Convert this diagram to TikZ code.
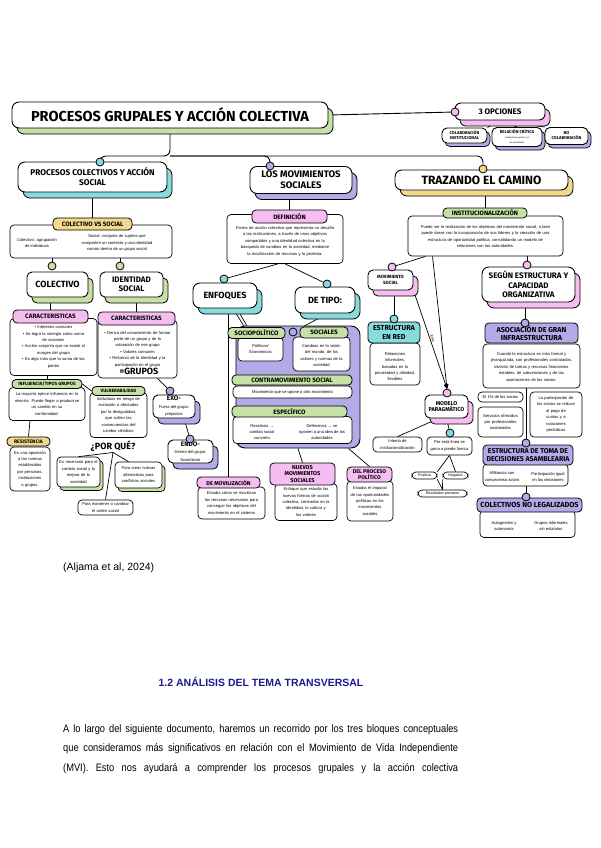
\documentclass[tikz,border=0pt]{standalone}
\usepackage{fontspec}
\setmainfont{Liberation Sans}
\setsansfont{Fira Sans}
\newfontfamily\narrowf{Liberation Sans}[FakeStretch=0.86]
\usepackage{xcolor}
\usetikzlibrary{shadows,arrows,positioning}

\definecolor{cyanS}{HTML}{86DCDC}
\definecolor{greenS}{HTML}{C5E1A5}
\definecolor{lavS}{HTML}{B3ABE8}
\definecolor{pinkS}{HTML}{F6BDF0}
\definecolor{yelS}{HTML}{F2D98E}
\definecolor{headblue}{HTML}{1C1A8A}

\newcommand{\hf}[2]{\sffamily\bfseries\fontsize{#1}{#2}\selectfont}
\newcommand{\smtxt}{\fontsize{4.1}{6.4}\selectfont}
\newcommand{\plain}{\rmfamily\mdseries\smtxt}
\newcommand{\optsub}{\rmfamily\mdseries\fontsize{2.2}{2.7}\selectfont}

\pgfdeclarelayer{bg}
\pgfsetlayers{bg,main}

\tikzset{
  card/.style={draw, line width=0.9pt, rounded corners=5pt, fill=white, align=center, inner sep=1pt},
  tag/.style={draw, line width=0.8pt, rounded corners=4pt, align=center, inner sep=0.5pt, font={\hf{6.3}{7.4}}},
  note/.style={draw, line width=0.7pt, rounded corners=4pt, fill=white, align=center, inner sep=1.5pt, font=\smtxt},
  txt/.style={align=center, inner sep=0pt, font=\smtxt},
  shd/.style={drop shadow={shadow xshift=5pt, shadow yshift=-6pt, fill=#1, draw=black, line width=0.8pt, opacity=1}},
  shds/.style={drop shadow={shadow xshift=3pt, shadow yshift=-3.5pt, fill=#1, draw=black, line width=0.7pt, opacity=1}},
  dot/.style={circle, draw, line width=0.8pt, fill=#1, minimum size=8pt, inner sep=0pt},
  link/.style={draw, line width=0.7pt},
  wh/.style 2 args={minimum width=#1, minimum height=#2},
  bodyline/.style={anchor=west, inner sep=0pt, font={\narrowf\fontsize{10.8}{12}\selectfont}},
}

\begin{document}
\begin{tikzpicture}[x=1pt, y=-1pt, >=stealth']
\useasboundingbox (0,0) rectangle (600,848);

% --- titulo y tres opciones
\node[card, shd=greenS, wh={316}{26}, rounded corners=7pt, font={\hf{14.5}{16}}] (title) at (170,115) {PROCESOS GRUPALES Y ACCIÓN COLECTIVA};
\node[card, shd=pinkS, wh={90}{17}, rounded corners=6pt, font={\hf{8}{9}}] (opts) at (500,111.5) {3 OPCIONES};
\node[dot=pinkS] (dotO) at (455,112) {};
\node[card, shds=lavS, wh={45}{15}, font={\hf{4.2}{5}}] (opt1) at (464.5,135.5) {COLABORACIÓN\\INSTITUCIONAL};
\node[card, shds=lavS, wh={50}{19}, font={\hf{4.2}{5}}] (opt2) at (517,137) {RELACIÓN CRÍTICA\\\optsub colaboración puntual con\\\optsub las autoridades};
\node[card, shds=lavS, wh={43}{17}, font={\hf{4.2}{5}}] (opt3) at (566.5,136) {NO\\COLABORACIÓN};

% --- tres ramas
\node[card, shd=cyanS, wh={149}{30}, rounded corners=7pt, font={\hf{8.3}{10}}] (pcas) at (92.5,177) {PROCESOS COLECTIVOS Y ACCIÓN\\SOCIAL};
\node[dot=cyanS] (dotP) at (100,162) {};
\node[card, shd=lavS, wh={102}{27}, rounded corners=7pt, font={\hf{9.5}{11}}] (lms) at (301,180) {LOS MOVIMIENTOS\\SOCIALES};
\node[dot=lavS] (dotM) at (270,166) {};
\node[card, shd=yelS, wh={173}{20}, rounded corners=7pt, font={\hf{12}{13}}] (tec) at (481.5,180) {TRAZANDO EL CAMINO};
\node[dot=yelS] (dotT) at (483,169) {};

% --- procesos colectivos
\node[note, wh={162}{33}] (cvs) at (91,241.5) {};
\node[txt] (cvsA) at (37,243) {Colectivo: agrupación\\de individuos};
\node[txt] (cvsB) at (117,243) {Social: conjunto de sujetos que\\comparten un contexto y una identidad\\común dentro de un grupo social};
\node[tag, fill=yelS, wh={79}{12}] (cvsT) at (92.5,224) {COLECTIVO VS SOCIAL};
\node[card, shd=greenS, wh={61}{25}, font={\hf{9}{10}}] (colec) at (57.5,284.5) {COLECTIVO};
\node[dot=greenS] (dotCo) at (52,266) {};
\node[card, shd=greenS, wh={63}{25}, font={\hf{8}{9.5}}] (ident) at (131.5,284.5) {IDENTIDAD\\SOCIAL};
\node[dot=greenS] (dotId) at (120,266) {};

\node[note, wh={87}{57}, text width=82pt] (charL) at (53.5,347) {• Intereses comunes\\• Se logra la sinergia como suma\\de acciones\\• Acción conjunta que no existe al\\margen del grupo\\• Es algo más que la suma de las\\partes};
\node[tag, fill=pinkS, wh={75}{13}] (charLt) at (50.5,316.5) {CARACTERISTICAS};
\node[note, wh={79}{58}, text width=74pt] (charR) at (137.5,349) {• Deriva del conocimiento de formar\\parte de un grupo y de la\\valoración de ese grupo\\• Valores comunes\\• Refuerzo de la identidad y la\\participación en el grupo\\[6pt]};
\node[tag, fill=pinkS, wh={77}{13}] (charRt) at (136.5,318.5) {CARACTERISTICAS};
\node[inner sep=0pt, font={\hf{9}{10}}] (grp) at (139,371) {=GRUPOS};

\node[note, wh={76}{33}, text width=72pt] (box1) at (47,404) {La mayoría ejerce influencia en la\\minoría. Puede llegar a producirse\\un cambio en su\\conformidad.};
\node[tag, fill=greenS, wh={70}{9}, font={\hf{4.6}{5}}] (tag1) at (47,384) {INFLUENCIA/TIPOS GRUPOS};
\node[note, wh={57}{45}, text width=53pt] (box2) at (118.5,415) {Individuos en riesgo de\\exclusión o afectados\\por la desigualdad,\\que sufren las\\consecuencias del\\cambio climático};
\node[tag, fill=greenS, wh={53}{9}, font={\hf{4.6}{5}}] (tag2) at (118.5,391) {VULNERABILIDAD};
\node[note, wh={40}{44}, text width=37pt] (resB) at (30,469) {Es una oposición\\a las normas\\establecidas\\por personas,\\instituciones\\o grupos.};
\node[tag, fill=yelS, wh={43}{9}, font={\hf{5}{6}}] (resT) at (28.5,441.5) {RESISTENCIA};

\node[inner sep=1pt, font={\hf{9}{10}}] (pq) at (113,446) {¿POR QUÉ?};
\node[note, shds=greenS, wh={43}{30}, text width=40pt] (pq1) at (78.5,472) {Es necesario para el\\cambio social y la\\mejora de la\\sociedad};
\node[note, shds=greenS, wh={47}{26}, text width=44pt] (pq2) at (138.5,475) {Para crear nuevas\\alternativas para\\conflictos sociales};
\node[note, wh={55}{15}, text width=52pt] (pq3) at (105.5,507.5) {Para mantener o cambiar\\el orden social};

\node[card, shd=lavS, wh={42}{23}, font={\hf{6.5}{7.5}}] (exo) at (174,406.5) {EXO-\\\plain Fuera del grupo:\\\plain prejuicios};
\node[dot=lavS] (dotEx) at (170,391) {};
\node[card, shd=lavS, wh={45}{23}, font={\hf{6.5}{7.5}}] (endo) at (190.5,451.5) {ENDO-\\\plain Dentro del grupo:\\\plain favoritismo};
\node[dot=lavS] (dotEn) at (190,439) {};

% --- movimientos sociales
\node[note, wh={116}{49}, text width=112pt] (def) at (285,239) {\\[1pt]Forma de acción colectiva que representa un desafío\\a las instituciones, a través de unos objetivos\\compartidos y una identidad colectiva en la\\búsqueda de cambios en la sociedad, mediante\\la movilización de recursos y la protesta.};
\node[tag, fill=pinkS, wh={75}{13}] (defT) at (289.5,216.5) {DEFINICIÓN};
\node[card, shd=cyanS, wh={64}{25}, rounded corners=7pt, font={\hf{9}{10}}] (enf) at (225,295.5) {ENFOQUES};
\node[dot=cyanS] (dotEf) at (224,279) {};
\node[card, shd=cyanS, wh={60}{26}, rounded corners=7pt, font={\hf{9}{10}}] (dtp) at (325,300) {DE TIPO:};
\node[dot=cyanS] (dotDt) at (327,284) {};

\node[draw, line width=0.9pt, rounded corners=9pt, fill=lavS, wh={124}{122}] (block) at (298,387) {};
\node[note, wh={45}{24}] (socB) at (260.5,349) {Políticos/\\Económicos};
\node[tag, fill=greenS, wh={57}{11}] (socT) at (256.5,333) {SOCIOPOLÍTICO};
\node[dot=lavS] (dotSo) at (293,332) {};
\node[note, wh={57}{34}, text width=54pt] (salB) at (321.5,354) {\\[0pt]Cambios en la visión\\del mundo, de los\\valores y normas de la\\sociedad};
\node[tag, fill=greenS, wh={48}{11}] (salT) at (324,332.5) {SOCIALES};
\node[note, wh={119}{12}] (conB) at (292.5,392) {Movimiento que se opone a otro movimiento};
\node[tag, fill=greenS, wh={120}{10}] (conT) at (292,380) {CONTRAMOVIMIENTO SOCIAL};
\node[note, wh={119}{27}] (espB) at (292.5,430) {};
\node[txt] (espA) at (262,432) {Reactivos →\\cambio social\\concreto};
\node[txt] (espC) at (322,432) {Defensivos → se\\oponen a una idea de las\\autoridades};
\node[tag, fill=greenS, wh={115}{11}] (espT) at (289.5,411.5) {ESPECÍFICO};

\node[note, wh={67}{32}, text width=64pt] (movB) at (231.5,503) {Estudia cómo se movilizan\\los recursos necesarios para\\conseguir los objetivos del\\movimiento en el sistema};
\node[tag, fill=pinkS, wh={63}{11}, font={\hf{5.6}{6.5}}] (movT) at (228.5,482.5) {DE MOVILIZACIÓN};
\node[note, wh={62}{37}, text width=59pt] (nuevB) at (306,502) {Enfoque que estudia las\\nuevas formas de acción\\colectiva, centradas en la\\identidad, la cultura y\\los valores};
\node[tag, fill=pinkS, wh={65}{22}, font={\hf{5.6}{6.5}}] (nuevT) at (302.5,474) {NUEVOS\\MOVIMIENTOS\\SOCIALES};
\node[note, wh={46}{40}, text width=43pt] (procB) at (370,501) {Estudia el impacto\\de las oportunidades\\políticas en los\\movimientos\\sociales};
\node[tag, fill=pinkS, wh={45}{15}, font={\hf{5.4}{6.2}}] (procT) at (369.5,474.5) {DEL PROCESO\\POLÍTICO};

% --- trazando el camino
\node[note, wh={155}{40}, text width=151pt] (inst) at (485.5,236) {\\[-2pt]Puede ser la realización de los objetivos del movimiento social, o bien\\puede darse con la incorporación de sus líderes y la creación de una\\estructura de oportunidad política, consolidando un modelo de\\relaciones con las autoridades.};
\node[tag, fill=greenS, wh={84}{10}] (instT) at (485,213) {INSTITUCIONALIZACIÓN};
\node[card, shd=pinkS, wh={45}{20}, font={\hf{4.6}{5.6}}] (ms) at (390.5,280) {MOVIMIENTO\\SOCIAL};
\node[dot=pinkS] (dotMs) at (392,267) {};
\node[card, shd=pinkS, wh={93}{35}, rounded corners=7pt, font={\hf{8}{9.6}}] (sg) at (528.5,284.5) {SEGÚN ESTRUCTURA Y\\CAPACIDAD\\ORGANIZATIVA};
\node[dot=pinkS] (dotSg) at (527,265) {};

\node[note, wh={50}{42}, text width=47pt] (rdB) at (395,364) {\\[2pt]Relaciones\\informales,\\basadas en la\\proximidad y afinidad,\\flexibles};
\node[tag, fill=cyanS, wh={52}{21}, font={\hf{7.2}{8.2}}] (rdT) at (394,332.5) {ESTRUCTURA\\EN RED};
\node[dot=cyanS] (dotRd) at (394,319) {};

\node[card, shd=pinkS, wh={43}{23}, font={\hf{5.6}{6.6}}] (md) at (446.5,406.5) {MODELO\\PARAGMÁTICO};
\node[dot=pinkS] (dotMd) at (447,393) {};
\node[note, wh={49}{15}] (intB) at (397.5,444.5) {Intento de\\institucionalización};
\node[note, wh={45}{18}] (cyB) at (449.5,446) {Por esta línea se\\gana o pierde fuerza};
\node[dot=cyanS] (dotCy) at (450,433) {};
\node[note, wh={25}{7}, inner sep=0.5pt, font=\fontsize{3.6}{4}\selectfont] (pil1) at (424.5,475.5) {Positiva};
\node[note, wh={25}{7}, inner sep=0.5pt, font=\fontsize{3.6}{4}\selectfont] (pil2) at (455.5,475.5) {Negativa};
\node[note, wh={49}{7}, inner sep=0.5pt, font=\fontsize{3.6}{4}\selectfont] (pil3) at (442.5,493.5) {Resultados previstos};

\node[note, wh={97}{44}, text width=94pt] (asoc) at (531.5,366) {\\[-1pt]Cuando la estructura es más formal y\\jerarquizada, con profesionales contratados,\\división de tareas y recursos financieros\\estables, de subvenciones y de las\\aportaciones de los socios.};
\node[tag, fill=lavS, wh={93}{20}, font={\hf{7.2}{8.3}}] (asocT) at (531.5,333) {ASOCIACIÓN DE GRAN\\INFRAESTRUCTURA};
\node[dot=lavS] (dotAs) at (525,323) {};
\node[note, wh={45}{10}] (sb1) at (500.5,397) {El 1\% de los socios};
\node[note, wh={45}{30}, text width=42pt] (sb2) at (500.5,422) {Servicios ofrecidos\\por profesionales\\asalariados};
\node[note, wh={52}{45}, text width=49pt] (sb3) at (556,414.5) {La participación de\\los socios se reduce\\al pago de\\cuotas y a\\votaciones\\periódicas};
\node[note, wh={85}{22}] (dec) at (525.5,475) {};
\node[txt] (decA) at (502,477) {Militancia con\\compromiso activo};
\node[txt] (decB) at (548,477) {Participación igual\\en las decisiones};
\node[tag, fill=lavS, wh={90}{20}, font={\hf{7}{8.2}}] (decT) at (528,455) {ESTRUCTURA DE TOMA DE\\DECISIONES ASAMBLEARIA};
\node[dot=lavS] (dotDc) at (526,443) {};
\node[note, wh={95}{27}] (colB) at (527.5,524) {};
\node[txt] (colA) at (504,526) {Autogestión y\\autonomía};
\node[txt] (colC) at (551,526) {Grupos informales\\sin estatutos};
\node[tag, fill=lavS, wh={105}{14}, font={\hf{7.3}{8}}] (colT) at (529.5,505) {COLECTIVOS NO LEGALIZADOS};
\node[dot=lavS] (dotCl) at (526,497) {};

% --- conectores
\begin{pgfonlayer}{bg}
\fill[white] (0,0) rectangle (600,848);
\coordinate (jn) at (170,156);
\draw[link, line width=0.9pt, rounded corners=6pt] (title.south) -- (jn) -| (dotP);
\draw[link, line width=0.9pt, rounded corners=6pt] (jn) -| (dotM);
\draw[link, line width=0.9pt, rounded corners=6pt] (jn) -| (dotT);
\draw[link, line width=0.9pt] (title.east) -- (dotO);
\draw[link] (opts.south) -- (opt1.north east);
\draw[link] (opts.south) -- (opt2.north);
\draw[link] (opts.south) -- (opt3.north west);

\draw[link] (pcas.south) -- (cvsT.north);
\draw[link] (dotCo) -- (dotCo |- cvs.south);
\draw[link] (dotId) -- (dotId |- cvs.south);
\draw[link] (charLt.north) -- (charLt.north |- colec.south);
\draw[link] (charRt.north) -- (charRt.north |- ident.south);
\draw[link] (tag1.north) -- (tag1.north |- charL.south);
\draw[link] (tag1.east) -- (tag2.west);
\draw[link] ([xshift=-17pt]box1.south) -- (resT.north);
\draw[link] (pq.south) -- (pq1.north);
\draw[link] (pq.south) -- ([xshift=-10pt]pq2.north);
\draw[link] (pq.south) -- (pq3.north);
\draw[link] ([xshift=20pt]charR.south) -- (dotEx);
\draw[link] ([xshift=10pt]exo.south) -- (dotEn);

\draw[link] (defT.north) -- (defT.north |- lms.south);
\draw[link] ([xshift=-7pt]def.south) -- (dotEf);
\draw[link] (def.south) -- (dotDt);
\draw[link] ([xshift=8pt]enf.south) -- ([xshift=-12pt]socT.north);
\draw[link] ([xshift=12pt]enf.south) -- ([xshift=-9pt]socT.north);
\draw[link] (movT.north) -- (movT.north |- enf.south);
\draw[link] ([xshift=3pt]dtp.south) -- (dotSo);
\draw[link] (block.south) -- (nuevT.north);
\draw[link] ([xshift=-12pt]block.south east) -- (procT.north);

\draw[link] (instT.north) -- (instT.north |- tec.south);
\draw[link] ([xshift=-60pt]inst.south) -- (dotMs);
\draw[link] (dotSg) -- (dotSg |- inst.south);
\draw[link] (dotRd) -- (dotRd |- ms.south);
\draw[link, ->] (ms.south east) -- node[midway, sloped, above, inner sep=1pt, font=\fontsize{3.4}{4}\selectfont] {Éxito} (dotMd.north);
\draw[link, ->] ([xshift=-53pt]inst.south) -- (dotMd.north);
\draw[link] ([xshift=-8pt]md.south) -- (intB.north);
\draw[link] (md.south) -- (dotCy);
\draw[link] (cyB.south) -- (pil1.north east);
\draw[link] (cyB.south) -- (pil2.north);
\draw[link] (pil1.south east) -- (pil3.north);
\draw[link] (pil2.south west) -- (pil3.north);
\draw[link] (dotAs) -- (dotAs |- sg.south);
\draw[link] (dotDc) -- (dotDc |- asoc.south);
\draw[link] (dotCl) -- (dotCl |- dec.south);
\end{pgfonlayer}

% --- texto de la pagina
\node[anchor=west, inner sep=0pt, font=\fontsize{10.5}{12}\selectfont] (cite) at (63,568) {(Aljama et al, 2024)};
\node[inner sep=0pt, text=headblue, font=\bfseries\fontsize{10.5}{12}\selectfont] (sec) at (261,682) {1.2 ANÁLISIS DEL TEMA TRANSVERSAL};
\node[bodyline] (par1) at (63,730) {\makebox[395pt][s]{A lo largo del siguiente documento, haremos un recorrido por los tres bloques conceptuales}};
\node[bodyline] (par2) at (63,749) {\makebox[395pt][s]{que consideramos más significativos en relación con el Movimiento de Vida Independiente}};
\node[bodyline] (par3) at (63,769) {\makebox[395pt][s]{(MVI). Esto nos ayudará a comprender los procesos grupales y la acción colectiva}};
\end{tikzpicture}
\end{document}
